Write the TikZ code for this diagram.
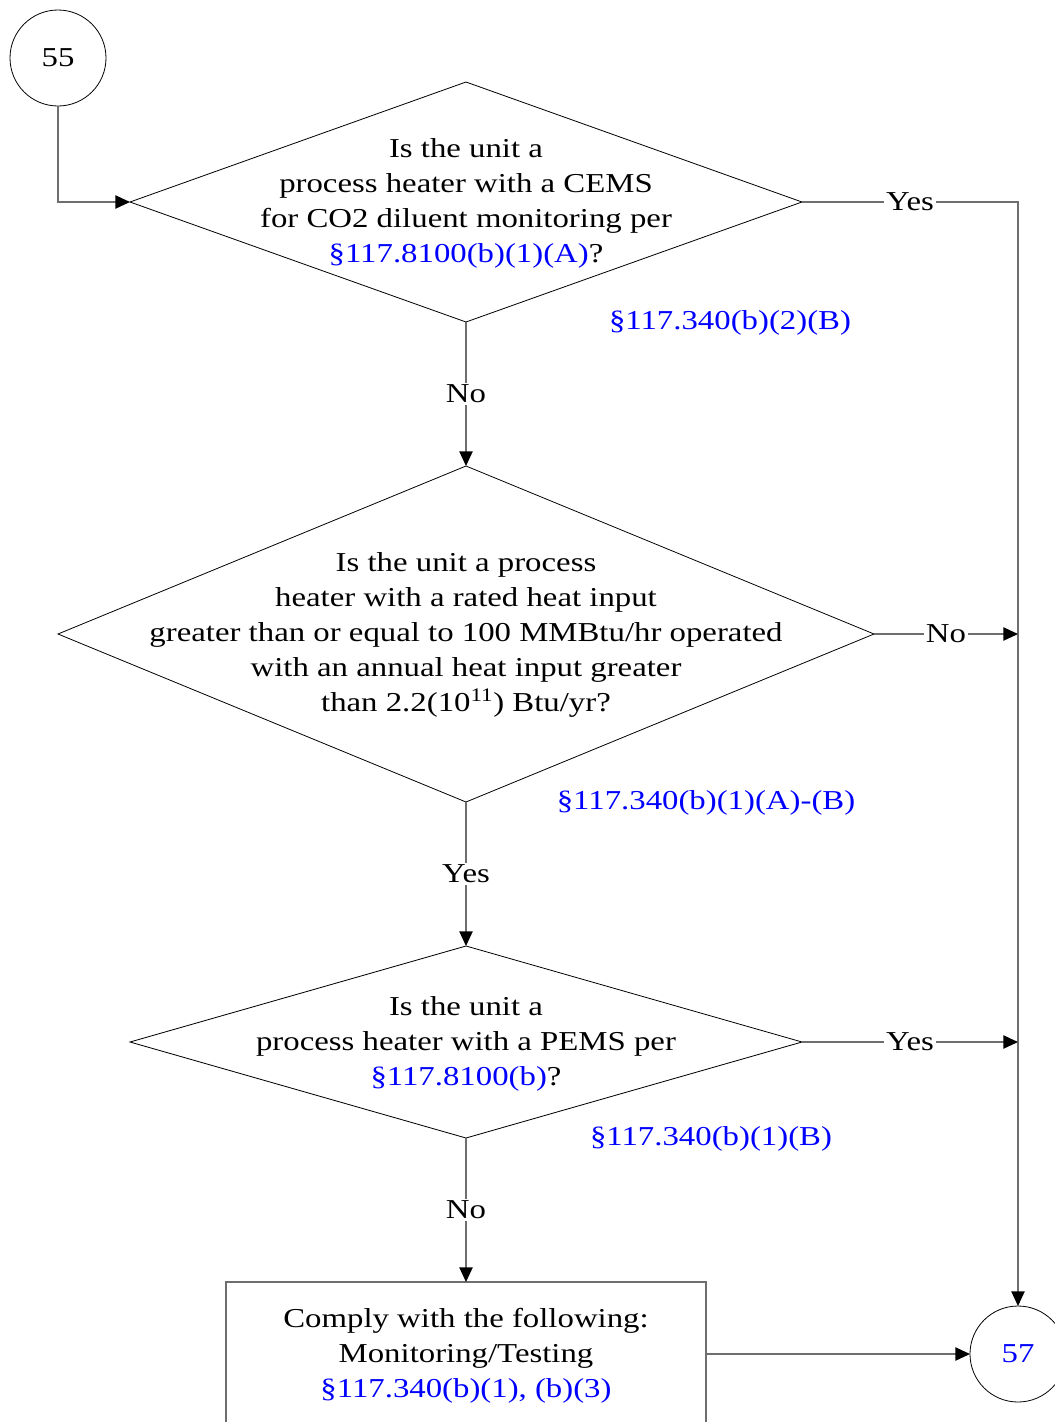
\documentclass[tikz,border=0pt]{standalone}
\usepackage{fontspec}
\setmainfont{Liberation Serif}[FakeStretch=1.2]
\usetikzlibrary{shapes.geometric,arrows.meta}
\definecolor{lnk}{RGB}{0,0,255}
\definecolor{connc}{RGB}{110,110,110}
\begin{document}
\begin{tikzpicture}[x=0.75pt,y=-0.75pt,
  txt/.style={font=\fontsize{20.5}{26.25}\selectfont, align=center, inner sep=0pt},
  dia/.style={draw, diamond, inner sep=0pt, outer sep=0pt, line width=0.6pt},
  conn/.style={draw=connc, line width=1pt},
  arr/.style={conn, -{Triangle[length=11pt,width=10pt,color=black]}},
  lbl/.style={txt, fill=white, inner sep=1.5pt},
  refn/.style={txt, text=lnk},
  term/.style={circle, draw, line width=0.6pt, minimum size=72pt, inner sep=0pt, outer sep=0pt, txt}]
\useasboundingbox (0,0) rectangle (1054,1422);

% terminals
\node[term] (c55) at (58,58) {55};
\node[term, text=lnk] (c57) at (1018,1354) {57};

% diamonds
\node[dia, minimum width=504pt, minimum height=180pt] (d1) at (466,202) {};
\node[txt] (t1) at (466,203) {Is the unit a\\process heater with a CEMS\\for CO2 diluent monitoring per\\\textcolor{lnk}{§117.8100(b)(1)(A)}?};

\node[dia, minimum width=612pt, minimum height=252pt] (d2) at (466,634) {};
\node[txt] (t2) at (466,635) {Is the unit a process\\heater with a rated heat input\\greater than or equal to 100 MMBtu/hr operated\\with an annual heat input greater\\than 2.2(10\textsuperscript{11}) Btu/yr?};

\node[dia, minimum width=504pt, minimum height=144pt] (d3) at (466,1042) {};
\node[txt] (t3) at (466,1044) {Is the unit a\\process heater with a PEMS per\\\textcolor{lnk}{§117.8100(b)}?};

% box
\node[conn, draw=connc, minimum width=360pt, minimum height=108pt, inner sep=0pt, outer sep=0pt] (bx) at (466,1354) {};
\node[txt] (tb) at (466,1356) {Comply with the following:\\Monitoring/Testing\\\textcolor{lnk}{§117.340(b)(1), (b)(3)}};

% references
\node[refn] (r1) at (730,323) {§117.340(b)(2)(B)};
\node[refn] (r2) at (706,803) {§117.340(b)(1)(A)-(B)};
\node[refn] (r3) at (711,1139) {§117.340(b)(1)(B)};

% helper coordinates on the right bus
\coordinate (k1) at (c57.north |- d1.east);
\coordinate (k2) at (c57.north |- d2.east);
\coordinate (k3) at (c57.north |- d3.east);

% connectors
\draw[arr] (c55.south) |- (d1.west);
\draw[arr] (d1.east) -- node[lbl]{Yes} (k1) -- (c57.north);
\draw[arr] (d1.south) -- node[lbl]{No} (d2.north);
\draw[arr] (d2.east) -- node[lbl]{No} (k2);
\draw[arr] (d2.south) -- node[lbl]{Yes} (d3.north);
\draw[arr] (d3.east) -- node[lbl]{Yes} (k3);
\draw[arr] (d3.south) -- node[lbl]{No} (bx.north);
\draw[arr] (bx.east) -- (c57.west);
\end{tikzpicture}
\end{document}
